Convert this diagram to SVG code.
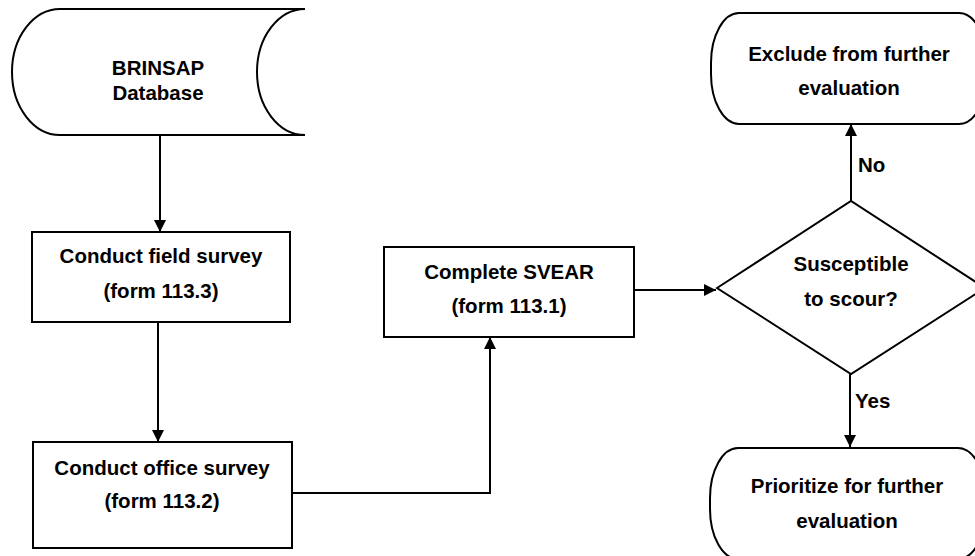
<svg xmlns="http://www.w3.org/2000/svg" width="975" height="556" viewBox="0 0 975 556">
<style>
.s{fill:#fff;stroke:#000;stroke-width:2}
.t{font-family:"Liberation Sans",Arial,sans-serif;font-weight:bold;font-size:20.5px;fill:#000;text-anchor:middle}
.l{font-family:"Liberation Sans",Arial,sans-serif;font-weight:bold;font-size:20.5px;fill:#000}
.c{fill:none;stroke:#000;stroke-width:2}
</style>
<defs>
<marker id="ah" viewBox="0 0 12 12" refX="12" refY="6" markerWidth="12" markerHeight="12" markerUnits="userSpaceOnUse" orient="auto">
<path d="M0,0 L12,6 L0,12 Z" fill="#000"/>
</marker>
</defs>
<rect width="975" height="556" fill="#fff"/>
<g id="connectors">
<path class="c" d="M160,135 V232" marker-end="url(#ah)"/>
<path class="c" d="M158,322 V442" marker-end="url(#ah)"/>
<path class="c" d="M292,493 H490 V337" marker-end="url(#ah)"/>
<path class="c" d="M634,290 H716" marker-end="url(#ah)"/>
<path class="c" d="M851,201 V124" marker-end="url(#ah)"/>
<path class="c" d="M850,374 V447" marker-end="url(#ah)"/>
<text class="l" x="858" y="172">No</text>
<text class="l" x="855" y="408">Yes</text>
</g>
<g id="brinsap">
<path class="s" d="M60,9 H305 A48,63 0 0 0 305,135 H60 A48,63 0 0 1 60,9 Z"/>
<text class="t" x="158" y="75">BRINSAP</text>
<text class="t" x="158" y="100">Database</text>
</g>
<g id="field">
<rect class="s" x="32" y="232" width="258" height="90"/>
<text class="t" x="161" y="263">Conduct field survey</text>
<text class="t" x="161" y="298">(form 113.3)</text>
</g>
<g id="office">
<rect class="s" x="33" y="442" width="259" height="106"/>
<text class="t" x="162" y="475">Conduct office survey</text>
<text class="t" x="162" y="508">(form 113.2)</text>
</g>
<g id="svear">
<rect class="s" x="384" y="247" width="250" height="90"/>
<text class="t" x="509" y="279">Complete SVEAR</text>
<text class="t" x="509" y="313">(form 113.1)</text>
</g>
<g id="decision">
<path class="s" d="M717,288 L851,201 L985,288 L851,374 Z"/>
<text class="t" x="851" y="271">Susceptible</text>
<text class="t" x="851" y="306">to scour?</text>
</g>
<g id="exclude">
<rect class="s" x="711" y="13" width="276" height="111" rx="28" ry="50"/>
<text class="t" x="849" y="61">Exclude from further</text>
<text class="t" x="849" y="95">evaluation</text>
</g>
<g id="prioritize">
<rect class="s" x="710" y="448" width="276" height="111" rx="28" ry="50"/>
<text class="t" x="847" y="493">Prioritize for further</text>
<text class="t" x="847" y="528">evaluation</text>
</g>
</svg>
